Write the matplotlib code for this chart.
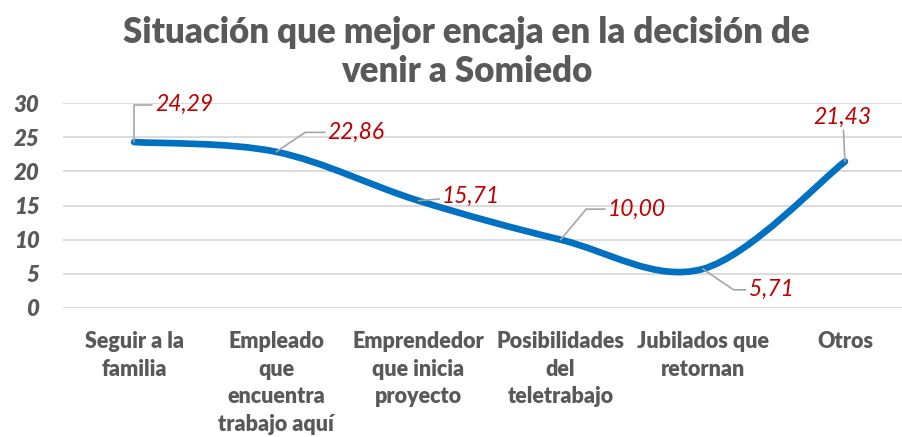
import matplotlib
matplotlib.use("Agg")
import matplotlib.pyplot as plt
from matplotlib.path import Path
from matplotlib.patches import PathPatch

plt.rcParams['font.family'] = ['Lato', 'DejaVu Sans']

# datos
categorias = ["Seguir a la\nfamilia", "Empleado\nque\nencuentra\ntrabajo aquí",
              "Emprendedor\nque inicia\nproyecto", "Posibilidades\ndel\nteletrabajo",
              "Jubilados que\nretornan", "Otros"]
valores = [24.29, 22.86, 15.71, 10.00, 5.71, 21.43]
etiquetas = ["24,29", "22,86", "15,71", "10,00", "5,71", "21,43"]
yticks = [0, 5, 10, 15, 20, 25, 30]

# posicion de las etiquetas (offset en puntos) y forma del conector
offsets = [(15, 27), (37, 14), (17, 3), (34, 22), (33, -15), (-1.5, 32)]
conectores = ["angle,angleA=0,angleB=90", "angle,angleA=0,angleB=34", "arc3",
              "angle,angleA=0,angleB=50", "angle,angleA=0,angleB=-34", "arc3"]
alineacion = ["left", "left", "left", "left", "left", "center"]

gris = "#595959"
azul = "#0070C0"
rojo = "#C00000"

fig = plt.figure(figsize=(9.03, 4.37), dpi=100)
ax = fig.add_axes([0.0698, 0.2952, 0.9446, 0.469])

# linea suavizada tipo excel (bezier catmull-rom)
xs = list(range(len(valores)))
pts = list(zip(xs, valores))
verts = [pts[0]]
codes = [Path.MOVETO]
n = len(pts)
for i in range(n - 1):
    p0 = pts[max(i - 1, 0)]
    p1 = pts[i]
    p2 = pts[i + 1]
    p3 = pts[min(i + 2, n - 1)]
    c1 = (p1[0] + (p2[0] - p0[0]) / 6, p1[1] + (p2[1] - p0[1]) / 6)
    c2 = (p2[0] - (p3[0] - p1[0]) / 6, p2[1] - (p3[1] - p1[1]) / 6)
    verts += [c1, c2, p2]
    codes += [Path.CURVE4] * 3
ax.add_patch(PathPatch(Path(verts, codes), fill=False, edgecolor=azul, lw=4.8,
                       capstyle="round", joinstyle="round", zorder=3))

for i, v in enumerate(valores):
    ax.annotate(etiquetas[i], xy=(xs[i], v), xytext=offsets[i], textcoords="offset points",
                ha=alineacion[i], va="center", color=rojo, fontsize=16.5, style="italic",
                arrowprops=dict(arrowstyle="-", color="#A6A6A6", lw=1.2, shrinkA=0, shrinkB=0,
                                connectionstyle=conectores[i]), zorder=4)

ax.set_xlim(-0.5, len(valores) - 0.5)
ax.set_ylim(0, 30)
ax.set_yticks(yticks)
ax.set_yticklabels([str(t) for t in yticks], fontsize=16, fontweight="heavy",
                   style="italic", color=gris)
ax.set_xticks(xs)
ax.set_xticklabels(categorias, fontsize=15.5, fontweight="heavy", color=gris,
                   va="top", linespacing=1.39)
ax.tick_params(axis="both", length=0)
ax.tick_params(axis="x", pad=16.5)
ax.tick_params(axis="y", pad=17)
for lbl in ax.get_yticklabels():
    lbl.set_ha("right")
ax.grid(axis="y", color="#D9D9D9", lw=1.3)
ax.set_axisbelow(True)
for s in ax.spines.values():
    s.set_visible(False)

fig.text(0.517, 0.881, "Situación que mejor encaja en la decisión de\nvenir a Somiedo",
         ha="center", va="center", fontsize=25, fontweight="heavy", color=gris,
         linespacing=1.22)

fig.savefig("out.png", dpi=100)
